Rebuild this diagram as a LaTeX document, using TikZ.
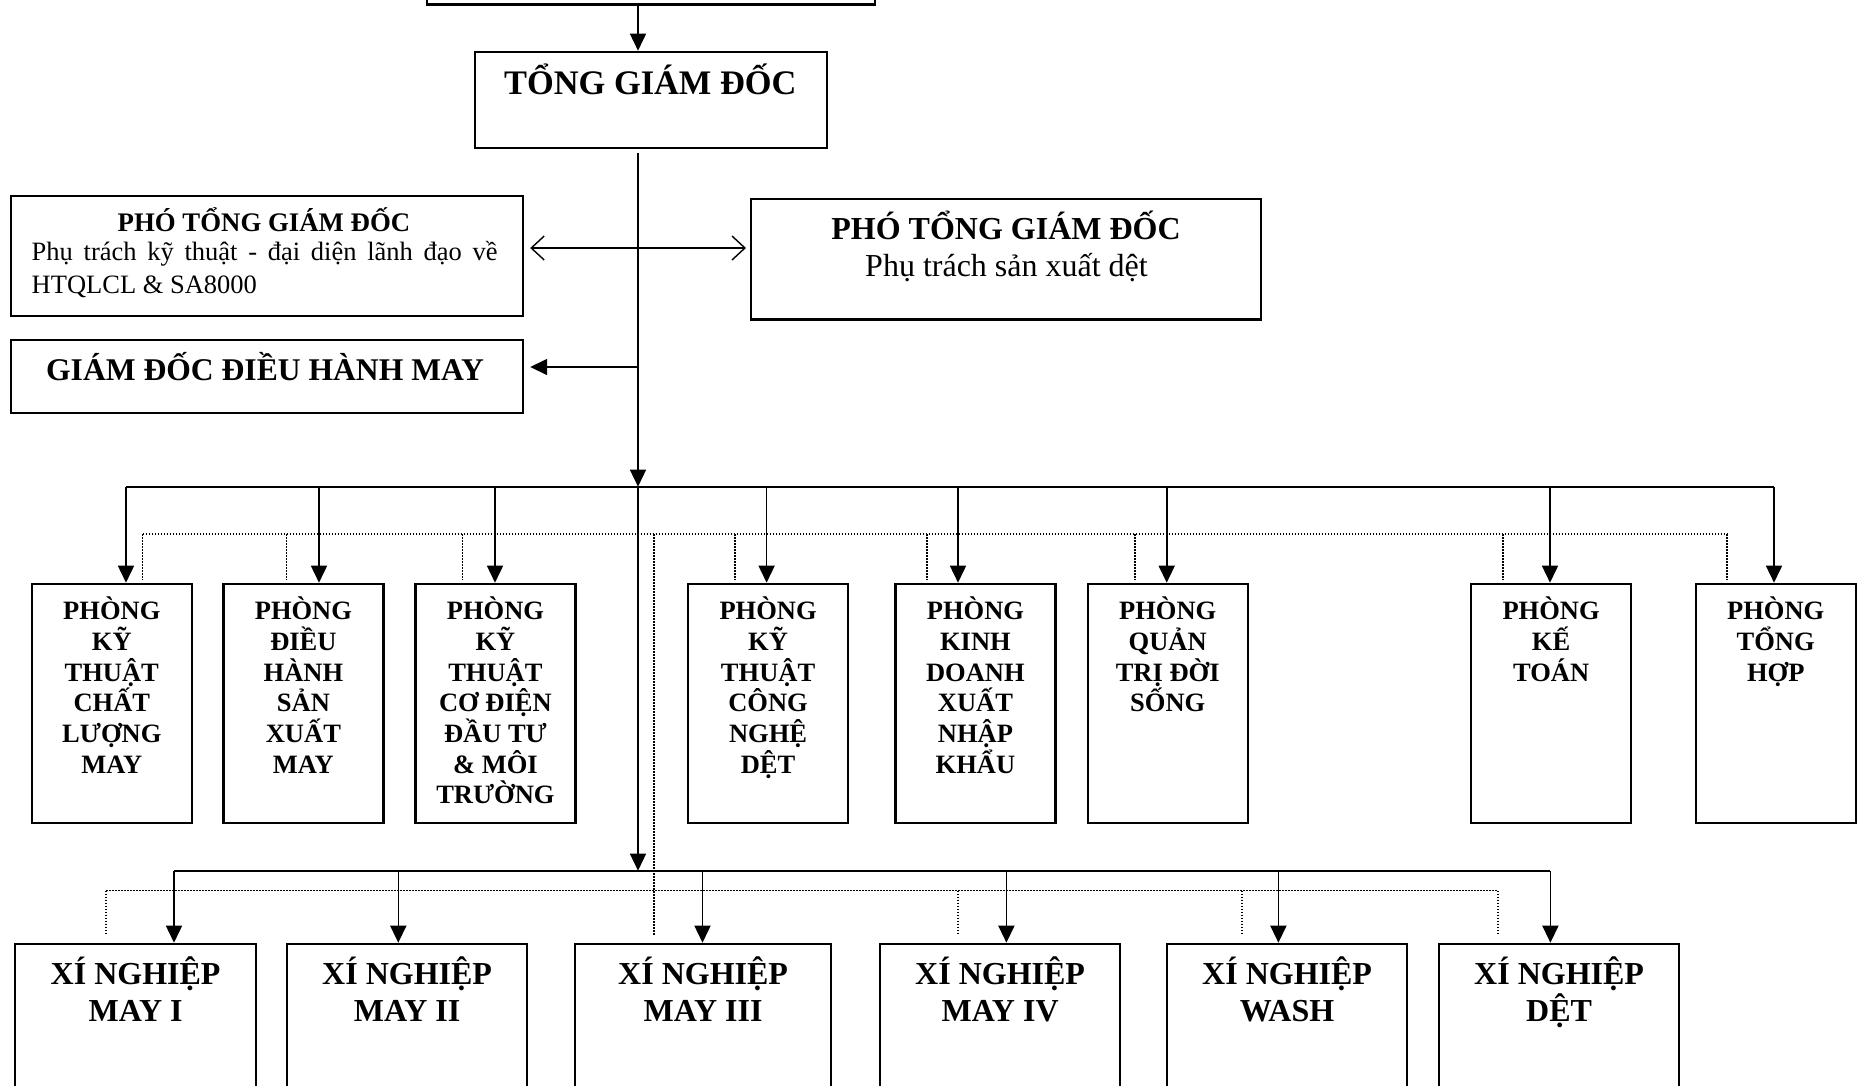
\documentclass[tikz,border=0pt]{standalone}
\usepackage{fontspec}
\setmainfont{Liberation Serif}
\usetikzlibrary{arrows.meta}
\newcommand{\linestack}[2]{\vtop{\baselineskip=#1\lineskiplimit=-50pt\lineskip=0pt\relax\halign{\hfil##\hfil\cr#2\crcr}}}
\begin{document}
\begin{tikzpicture}[x=1pt,y=-1pt,
  box/.style={draw, line width=2.2pt, inner sep=0pt, anchor=north west},
  txt/.style={inner sep=0pt, anchor=base},
  conn/.style={line width=1.6pt},
  arr/.style={conn, -{Triangle[length=17pt,width=16pt]}},
  bus/.style={line width=2pt},
  dots/.style={line width=1.5pt, dash pattern=on 1.5pt off 1.5pt},
  boldtxt/.style={font=\fontsize{#1}{#1}\selectfont\bfseries},
  regtxt/.style={font=\fontsize{#1}{#1}\selectfont},
  barb/.style={line width=1.4pt, {Straight Barb[length=13pt,width=24pt]}-{Straight Barb[length=13pt,width=24pt]}}
]
\path[use as bounding box] (0,0) rectangle (1862,1085);
\clip (0,0) rectangle (1862,1085);

% top-level boxes
\node[box, minimum width=448, minimum height=70] (hdqt) at (426,-66.7) {};
\node[box, minimum width=352, minimum height=96] (tgd) at (474,50.7) {};
\node[txt, boldtxt=34.4] (tgdT) at (650.3,94.8) {TỔNG GIÁM ĐỐC};

\node[box, minimum width=512, minimum height=119.5] (pl) at (10,195) {};
\node[txt, boldtxt=26.8] (plT) at (264,231) {PHÓ TỔNG GIÁM ĐỐC};
\node[txt, anchor=base west, regtxt=26.5] (plB1) at (31.5,260) {\makebox[466pt][s]{Phụ trách kỹ thuật - đại diện lãnh đạo về}};
\node[txt, anchor=base west, regtxt=26.5] (plB2) at (31.5,293) {HTQLCL \& SA8000};

\node[box, minimum width=512, minimum height=72.7] (gd) at (10,339) {};
\node[txt, boldtxt=31.6] (gdT) at (265,380) {GIÁM ĐỐC ĐIỀU HÀNH MAY};

\node[box, minimum width=510, minimum height=120.6] (pr) at (750,197.7) {};
\node[txt, boldtxt=32] (prT) at (1006,239) {PHÓ TỔNG GIÁM ĐỐC};
\node[txt, regtxt=32] (prB) at (1006.5,276) {Phụ trách sản xuất dệt};

% spine
\coordinate (sp) at (638,0);
\coordinate (b1) at (638,486.7);
\coordinate (b2) at (638,870.7);
\draw[arr] (hdqt.south -| sp) -- (tgd.north -| sp);
\draw[arr, line width=1.4pt] ([yshift=-4pt]tgd.south -| sp) -- (b1);
\draw[arr, line width=1.4pt] (b1) -- (b2);

\coordinate (dy) at (638,248);
\draw[barb, shorten <=6pt, shorten >=4pt] (pl.east |- dy) -- (pr.west |- dy);
\coordinate (gy) at (638,367);
\draw[arr, shorten >=6pt] (gy) -- (gd.east |- gy);

% departments
\foreach \i/\x/\ax/\ux/\t in {
 1/30.7/126/142.7/{PHÒNG\cr KỸ\cr THUẬT\cr CHẤT\cr LƯỢNG\cr MAY},
 2/222.3/319/286.7/{PHÒNG\cr ĐIỀU\cr HÀNH\cr SẢN\cr XUẤT\cr MAY},
 3/414.3/495/462.7/{PHÒNG\cr KỸ\cr THUẬT\cr CƠ ĐIỆN\cr ĐẦU TƯ\cr \& MÔI\cr TRƯỜNG},
 4/687/766.6/735/{PHÒNG\cr KỸ\cr THUẬT\cr CÔNG\cr NGHỆ\cr DỆT},
 5/894.3/958/927/{PHÒNG\cr KINH\cr DOANH\cr XUẤT\cr NHẬP\cr KHẨU},
 6/1086.6/1166.7/1135/{PHÒNG\cr QUẢN\cr TRỊ ĐỜI\cr SỐNG},
 7/1470/1550/1503/{PHÒNG\cr KẾ\cr TOÁN},
 8/1694.6/1774/1727/{PHÒNG\cr TỔNG\cr HỢP}}{
  \node[box, minimum width=160, minimum height=239] (d\i) at (\x,582.7) {};
  \node[txt, boldtxt=26.5] (d\i T) at ([yshift=-37pt]d\i.north) {\linestack{30.7pt}{\t}};
  \coordinate (t\i) at (\ax,486.7);
  \coordinate (u\i) at (\ux,534);
  \draw[arr] (t\i) -- (t\i |- d\i.north);
  \draw[dots, shorten >=3.5pt] (u\i) -- (u\i |- d\i.north);
}
\draw[bus] (t1) -- (t8);
\draw[dots] (u1) -- (u8);

% enterprises
\foreach \i/\x/\w/\ax/\t in {
 1/14/241/174/{XÍ NGHIỆP\cr MAY I},
 2/286/240/398.3/{XÍ NGHIỆP\cr MAY II},
 3/574/256/702.5/{XÍ NGHIỆP\cr MAY III},
 4/879/240/1006.4/{XÍ NGHIỆP\cr MAY IV},
 5/1166/240/1278.4/{XÍ NGHIỆP\cr WASH},
 6/1438/240/1550.4/{XÍ NGHIỆP\cr DỆT}}{
  \node[box, minimum width=\w, minimum height=200] (x\i) at (\x,942.7) {};
  \node[txt, boldtxt=32] (x\i T) at ([yshift=-41.5pt]x\i.north) {\linestack{37.5pt}{\t}};
  \coordinate (s\i) at (\ax,870.7);
  \draw[arr] (s\i) -- (s\i |- x\i.north);
}
\draw[bus] (s1) -- (s6);

% dotted links, lower level
\coordinate (lv) at (654,534);
\draw[dots, shorten >=7.7pt] (lv) -- (lv |- x3.north);
\coordinate (w1) at (106,890.7);
\coordinate (w4) at (958,890.7);
\coordinate (w5) at (1242,890.7);
\coordinate (w6) at (1498,890.7);
\draw[dots] (w1) -- (w6);
\draw[dots, shorten >=7.7pt] (w1) -- (w1 |- x1.north);
\draw[dots, shorten >=7.7pt] (w4) -- (w4 |- x4.north);
\draw[dots, shorten >=7.7pt] (w5) -- (w5 |- x5.north);
\draw[dots, shorten >=7.7pt] (w6) -- (w6 |- x6.north);
\end{tikzpicture}
\end{document}
